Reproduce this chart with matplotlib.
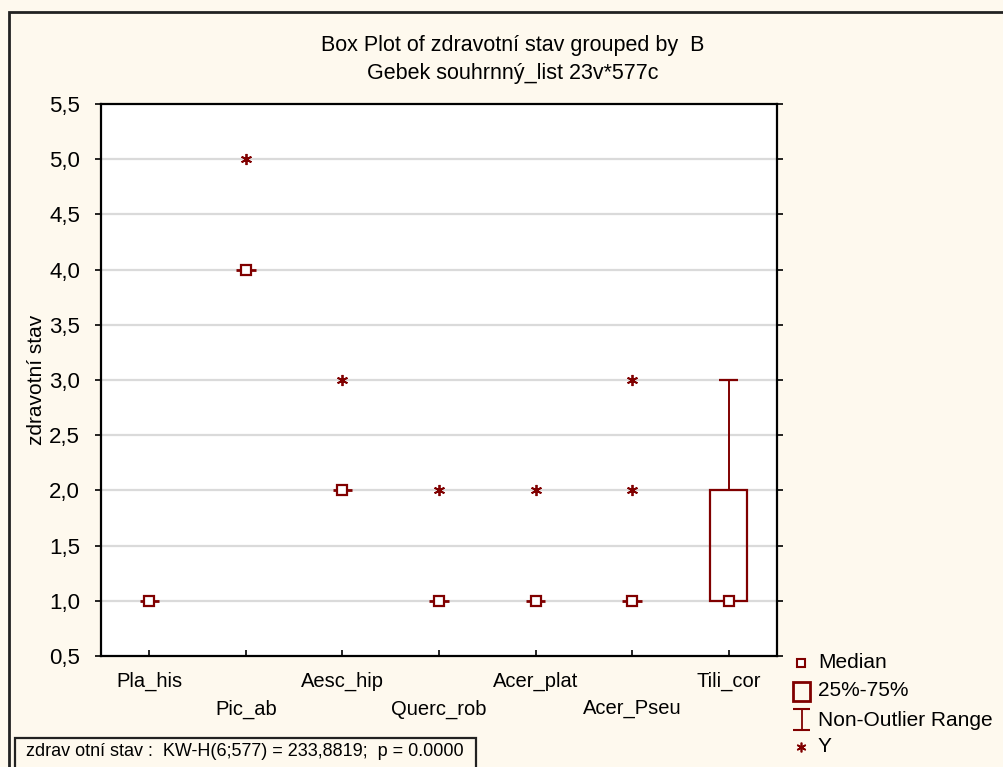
import matplotlib.pyplot as plt
from matplotlib.patches import Rectangle
from matplotlib.ticker import FuncFormatter, MultipleLocator

plt.rcParams['font.family'] = ['Liberation Sans', 'DejaVu Sans']

# data
groups = ["Pla_his", "Pic_ab", "Aesc_hip", "Querc_rob", "Acer_plat", "Acer_Pseu", "Tili_cor"]
medians = [1, 4, 2, 1, 1, 1, 1]
q1 = [1, 4, 2, 1, 1, 1, 1]
q3 = [1, 4, 2, 1, 1, 1, 2]
whisk_lo = [1, 4, 2, 1, 1, 1, 1]
whisk_hi = [1, 4, 2, 1, 1, 1, 3]
outliers = [[], [5], [3], [2], [2], [2, 3], []]

red = "#800000"
bg = "#fef9ee"
fs = 15

fig = plt.figure(figsize=(10.04, 7.67), dpi=100, facecolor=bg)
W, H = 1004, 767
ax = fig.add_axes([101 / W, 1 - 656 / H, 676 / W, 552 / H])
ax.set_facecolor("white")

for i in range(len(groups)):
    if q3[i] > q1[i]:
        ax.add_patch(Rectangle((i - 0.19, q1[i]), 0.38, q3[i] - q1[i],
                               fill=False, ec=red, lw=1.6, zorder=3))
    if whisk_hi[i] > q3[i]:
        ax.vlines(i, q3[i], whisk_hi[i], color=red, lw=1.4, zorder=3)
        ax.hlines(whisk_hi[i], i - 0.1, i + 0.1, color=red, lw=1.6, zorder=3)
    if whisk_lo[i] < q1[i]:
        ax.vlines(i, whisk_lo[i], q1[i], color=red, lw=1.4, zorder=3)
        ax.hlines(whisk_lo[i], i - 0.1, i + 0.1, color=red, lw=1.6, zorder=3)
    if q3[i] == q1[i]:
        ax.hlines(medians[i], i - 0.1, i + 0.1, color=red, lw=2, zorder=3)
    ax.plot(i, medians[i], marker="s", ms=7, mfc="white", mec=red, mew=1.6, zorder=4)
    for o in outliers[i]:
        ax.plot(i, o, marker=(6, 2, 0), ms=8, color=red, mew=1.3, zorder=4)

ax.set_xlim(-0.5, len(groups) - 0.5)
ax.set_ylim(0.5, 5.5)
ax.yaxis.set_major_locator(MultipleLocator(0.5))
ax.yaxis.set_major_formatter(FuncFormatter(lambda v, p: f"{v:.1f}".replace(".", ",")))
for y in [1.0, 1.5, 2.0, 2.5, 3.0, 3.5, 4.0, 4.5, 5.0]:
    ax.axhline(y, color="#dadada", lw=1.6, zorder=1)

ax.set_xticks(range(len(groups)))
ax.set_xticklabels([])
ax.tick_params(axis="x", direction="in", length=4, width=1.2)
ax.tick_params(axis="y", direction="out", length=4, width=1.2, labelsize=16,
               right=True, pad=11)
for s in ax.spines.values():
    s.set_linewidth(1.6)

for i, g in enumerate(groups):
    fig.text((101 + (i + 0.5) * 676 / 7) / W, 1 - (681 if i % 2 == 0 else 709) / H, g,
             ha="center", va="center", fontsize=14.5)

fig.text(37 / W, 1 - 380 / H, "zdravotní stav", rotation=90,
         ha="center", va="center", fontsize=fs)

fig.text(513 / W, 1 - 45 / H, "Box Plot of zdravotní stav grouped by  B",
         ha="center", va="center", fontsize=15.5)
fig.text(513 / W, 1 - 73 / H, "Gebek souhrnný_list 23v*577c",
         ha="center", va="center", fontsize=15.5)

# outer frame
fig.patches.append(Rectangle((9 / W, -0.02), 1.05, 1 - 12 / H + 0.02, transform=fig.transFigure,
                             fill=False, ec="#222222", lw=2))
# KW-H box
fig.patches.append(Rectangle((15 / W, -0.02), 461 / W, 29 / H + 0.02, transform=fig.transFigure,
                             fill=False, ec="#222222", lw=1.6))
fig.text(26 / W, 1 - 752 / H, "zdrav otní stav :  KW-H(6;577) = 233,8819;  p = 0.0000",
         ha="left", va="center", fontsize=13)

# legend
lg = fig.add_axes([780 / W, 0, 224 / W, 127 / H])
lg.set_xlim(780, 1004)
lg.set_ylim(767, 640)
lg.axis("off")
lg.plot(801, 663, marker="s", ms=6, mfc="white", mec=red, mew=1.5)
lg.add_patch(Rectangle((793, 682), 17, 19, fill=False, ec=red, lw=2))
lg.vlines(801.5, 709, 730, color=red, lw=1.3)
lg.hlines([709, 730], 793, 810, color=red, lw=1.5)
lg.plot(801, 747, marker=(6, 2, 0), ms=7, color=red, mew=1.2)
for y, t in zip([663, 691, 720, 747], ["Median", "25%-75%", "Non-Outlier Range", "Y"]):
    lg.text(818, y, t, ha="left", va="center", fontsize=fs)

fig.savefig("out.png", dpi=100, facecolor=bg)
